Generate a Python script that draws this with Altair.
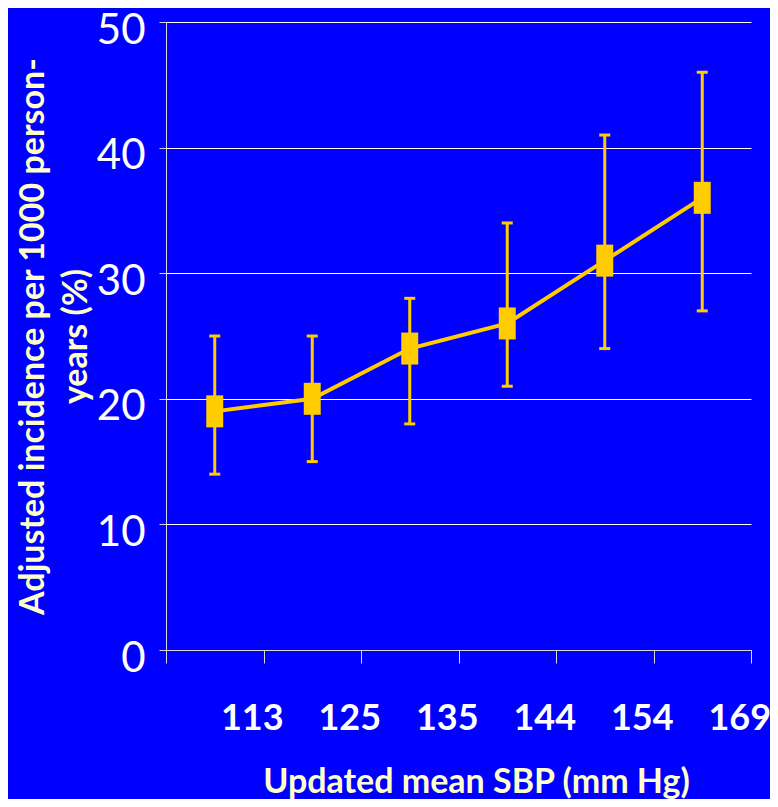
import altair as alt
import pandas as pd

sbp = ["113", "125", "135", "144", "154", "169"]
incidence = [19, 20, 24, 26, 31, 36]
ci_low = [14, 15, 18, 21, 24, 27]
ci_high = [25, 25, 28, 34, 41, 46]
y_ticks = [0, 10, 20, 30, 40, 50]

df = pd.DataFrame({"sbp": sbp, "mean": incidence, "lo": ci_low, "hi": ci_high})

GOLD = "#FFCC00"
CREAM = "#FFFFCC"
FONT = "Lato"

x = alt.X(
    "sbp:N",
    sort=sbp,
    scale=alt.Scale(type="band", paddingInner=0, paddingOuter=0),
    axis=alt.Axis(
        title="Updated mean SBP (mm Hg)",
        tickBand="extent",
        tickSize=13,
        tickColor="#D9D9D9",
        domainColor="#D9D9D9",
        labelOffset=37,
        labelPadding=55,
        labelAngle=0,
        labelFont=FONT,
        labelFontSize=36,
        labelFontWeight="bold",
        labelColor="white",
        labelBaseline="middle",
        titleFont=FONT,
        titleFontSize=34,
        titleFontWeight="bold",
        titleColor=CREAM,
        titleX=310,
        titleY=132,
        titleBaseline="middle",
        titleAnchor="middle",
        titleAlign="center",
        grid=False,
    ),
)

y_axis = alt.Axis(
    values=y_ticks,
    title=["Adjusted incidence per 1000 person-", "years (%)"],
    tickSize=7,
    tickColor="#D9D9D9",
    domainColor="#D9D9D9",
    gridColor="white",
    gridWidth=1,
    labelFont=FONT,
    labelFontSize=42,
    labelColor="white",
    labelPadding=14,
    labelBaseline="middle",
    labelOffset=8,
    titleFont=FONT,
    titleFontSize=34,
    titleFontWeight="bold",
    titleColor=CREAM,
    titleLineHeight=43,
    titleAngle=-90,
    titleX=-150,
    titleY=314,
    titleAlign="center",
    titleBaseline="top",
)

y = alt.Y("mean:Q", scale=alt.Scale(domain=[0, 50]), axis=y_axis)

base = alt.Chart(df)

line = base.mark_line(color=GOLD, strokeWidth=4).encode(x=x, y=y)
rules = base.mark_rule(color=GOLD, strokeWidth=3).encode(x=x, y=alt.Y("lo:Q"), y2="hi:Q")
caps_hi = base.mark_tick(color=GOLD, size=11, thickness=3, opacity=1).encode(x=x, y=alt.Y("hi:Q"))
caps_lo = base.mark_tick(color=GOLD, size=11, thickness=3, opacity=1).encode(x=x, y=alt.Y("lo:Q"))
squares = base.mark_point(
    shape="M-0.53,-1L0.53,-1L0.53,1L-0.53,1Z",
    size=1024,
    filled=True,
    color=GOLD,
    opacity=1,
).encode(x=x, y=y)

chart = (
    alt.layer(line, rules, caps_hi, caps_lo, squares)
    .properties(
        width=585,
        height=628,
        background="#0000FF",
        padding={"left": 158, "top": 14, "right": 19, "bottom": 149},
        autosize=alt.AutoSizeParams(type="none"),
    )
    .configure_view(stroke=None)
)

chart.save("out.html", embed_options={"renderer": "svg", "actions": False})
